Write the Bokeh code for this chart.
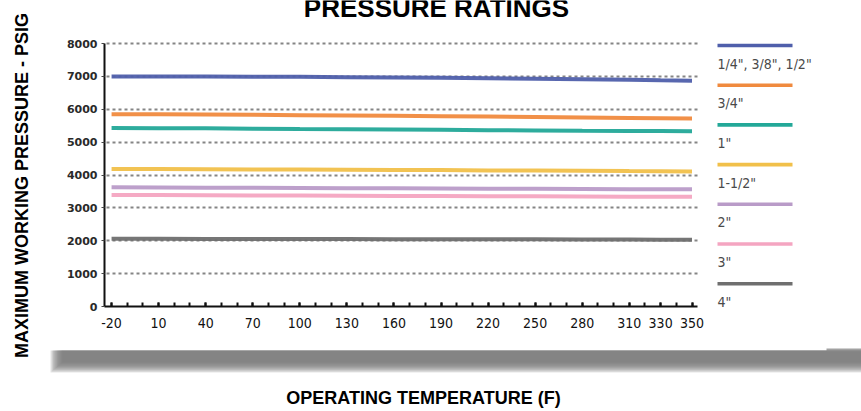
from bokeh.plotting import figure
from bokeh.models import Range1d, FixedTicker, Label, BoxAnnotation, LinearAxis, Grid
from bokeh.embed import file_html
from bokeh.resources import INLINE
import math

# ---------------- data ----------------
temps = [-20, 10, 40, 70, 100, 130, 160, 190, 220, 250, 280, 310, 330, 350]
tick_temps = [-20, 10, 40, 70, 100, 130, 160, 190, 220, 250, 280, 310, 330, 350]
minor_temps = list(range(-20, 351, 10))
pressure_ticks = [0, 1000, 2000, 3000, 4000, 5000, 6000, 7000, 8000]

sizes = ['1/4", 3/8", 1/2"', '3/4"', '1"', '1-1/2"', '2"', '3"', '4"']
p_small = [7000, 7000, 6995, 6990, 6985, 6975, 6965, 6955, 6940, 6925, 6910, 6895, 6880, 6870]
p_3q    = [5850, 5845, 5840, 5830, 5820, 5810, 5800, 5790, 5780, 5765, 5750, 5735, 5725, 5715]
p_1     = [5430, 5425, 5420, 5410, 5400, 5395, 5385, 5375, 5365, 5355, 5345, 5340, 5335, 5330]
p_1half = [4185, 4180, 4175, 4170, 4165, 4160, 4155, 4150, 4140, 4135, 4130, 4120, 4115, 4110]
p_2     = [3625, 3620, 3615, 3610, 3605, 3600, 3595, 3590, 3585, 3580, 3575, 3570, 3568, 3565]
p_3     = [3395, 3390, 3385, 3380, 3375, 3370, 3365, 3360, 3355, 3350, 3345, 3340, 3338, 3335]
p_4     = [2060, 2058, 2056, 2054, 2052, 2050, 2048, 2046, 2044, 2042, 2040, 2036, 2033, 2030]
series = [p_small, p_3q, p_1, p_1half, p_2, p_3, p_4]
colors = ["#4f5fab", "#f08a3e", "#23a898", "#f1c04a", "#b99bc8", "#f4a5c1", "#6f6f6f"]

# ---------------- layout (canvas px) ----------------
W, H = 861, 411
FL, FR, FT, FB = 104, 697, 43, 306         # where the chart box sits on the canvas
XMIN, XMAX = -24.5, 353.5                  # extent of the x axis line
YMIN, YMAX = 0, 8000
kx = (FR - FL) / (XMAX - XMIN)
ky = (FB - FT) / (YMAX - YMIN)
x_range = Range1d(XMIN - FL / kx, XMAX + (W - FR) / kx)
y_range = Range1d(YMIN - (H - FB) / ky, YMAX + FT / ky)

p = figure(width=W, height=H, output_backend="svg", toolbar_location=None,
           x_range=x_range, y_range=y_range,
           x_axis_location=None, y_axis_location=None,
           min_border=0, min_border_left=0, min_border_right=0,
           min_border_top=0, min_border_bottom=0)
p.outline_line_color = None
p.background_fill_color = "white"
p.border_fill_color = "white"
for g in p.grid:
    g.visible = False

# grid lines
grid_ok = True
g = Grid(dimension=1, ticker=FixedTicker(ticks=pressure_ticks[1:]),
         grid_line_color="#858585", grid_line_width=2, grid_line_dash="3 3")
try:
    g.cross_bounds = (XMIN + 1.5, XMAX + 2.0)
    g.bounds = (YMIN + 1, YMAX)
    p.add_layout(g)
except Exception:
    grid_ok = False
if not grid_ok:
    gt = pressure_ticks[1:]
    p.segment(x0=[XMIN + 1.5] * len(gt), y0=gt, x1=[XMAX + 2.0] * len(gt), y1=gt,
              line_color="#858585", line_width=2, line_dash="3 3")

# axes at fixed locations
xa = LinearAxis(fixed_location=YMIN, bounds=(XMIN, XMAX))
xa.ticker = FixedTicker(ticks=tick_temps, minor_ticks=minor_temps)
xa.major_label_overrides = {t: str(t) for t in tick_temps}
xa.axis_line_color = "#111111"
xa.axis_line_width = 2
xa.major_tick_in = 4
xa.major_tick_out = 0
xa.minor_tick_in = 4
xa.minor_tick_out = 0
xa.major_tick_line_color = "#111111"
xa.minor_tick_line_color = "#111111"
xa.major_tick_line_width = 2
xa.minor_tick_line_width = 2
xa.major_label_text_font = "DejaVu Sans Condensed"
xa.major_label_text_font_size = "14px"
xa.major_label_text_color = "#111111"
xa.major_label_standoff = 11
p.add_layout(xa, "below")

ya = LinearAxis(fixed_location=XMIN, bounds=(YMIN, YMAX))
ya.ticker = FixedTicker(ticks=pressure_ticks)
ya.axis_line_color = "#111111"
ya.axis_line_width = 2
ya.major_tick_in = 0
ya.major_tick_out = 3
ya.minor_tick_line_color = None
ya.major_tick_line_color = "#444444"
ya.major_label_text_font = "DejaVu Sans"
ya.major_label_text_font_style = "bold"
ya.major_label_text_font_size = "11px"
ya.major_label_text_color = "#2a2a2a"
ya.major_label_standoff = 4
p.add_layout(ya, "left")

for vals, c in zip(series, colors):
    p.line(temps, vals, line_color=c, line_width=4, line_alpha=0.95)

# screen helper: canvas px from top -> bokeh screen units (from bottom)
def sy(y):
    return H - y

def screen_box(l, r, t, b, **kw):
    return BoxAnnotation(left=l, right=r, top=sy(t), bottom=sy(b),
                         left_units="screen", right_units="screen",
                         top_units="screen", bottom_units="screen", **kw)

# shadow band under the chart (soft gradient by stacked translucent boxes)
for k in range(10):
    p.add_layout(screen_box(50 + k * 1.3, W, 350, 361 + (10 - k) * 1.1,
                            fill_color="#767676", fill_alpha=0.2, line_color=None, level="underlay"))
p.add_layout(screen_box(826, W, 348, 351, fill_color="#8a8a8a", fill_alpha=0.8,
                        line_color=None, level="underlay"))

# legend: line above, label below
leg_top = 45
leg_step = 39.7
for i, (name, c) in enumerate(zip(sizes, colors)):
    yy = leg_top + i * leg_step
    p.add_layout(screen_box(717, 792, yy - 1.8, yy + 1.8, fill_color=c, fill_alpha=1, line_color=None))
    p.add_layout(Label(x=717, y=sy(yy + 18), x_units="screen", y_units="screen", text=name,
                       text_font="DejaVu Sans Condensed", text_font_size="14px",
                       text_color="#4a4a4a", text_baseline="middle", text_align="left"))

# title (cut off at the top in the original)
p.add_layout(Label(x=436, y=sy(7.5), x_units="screen", y_units="screen", text="PRESSURE RATINGS",
                   text_font="Liberation Sans", text_font_style="bold", text_font_size="26px",
                   text_color="#000000", text_align="center", text_baseline="alphabetic"))

# y axis title
p.add_layout(Label(x=21, y=sy(185), x_units="screen", y_units="screen",
                   text="MAXIMUM WORKING PRESSURE - PSIG", angle=math.pi / 2,
                   text_font="Liberation Sans", text_font_style="bold", text_font_size="18px",
                   text_color="#000000", text_align="center", text_baseline="alphabetic"))

# x axis title
p.add_layout(Label(x=423, y=sy(397), x_units="screen", y_units="screen",
                   text="OPERATING TEMPERATURE (F)",
                   text_font="Liberation Sans", text_font_style="bold", text_font_size="18px",
                   text_color="#000000", text_align="center", text_baseline="middle"))

open("out.html", "w").write(file_html(p, INLINE))
